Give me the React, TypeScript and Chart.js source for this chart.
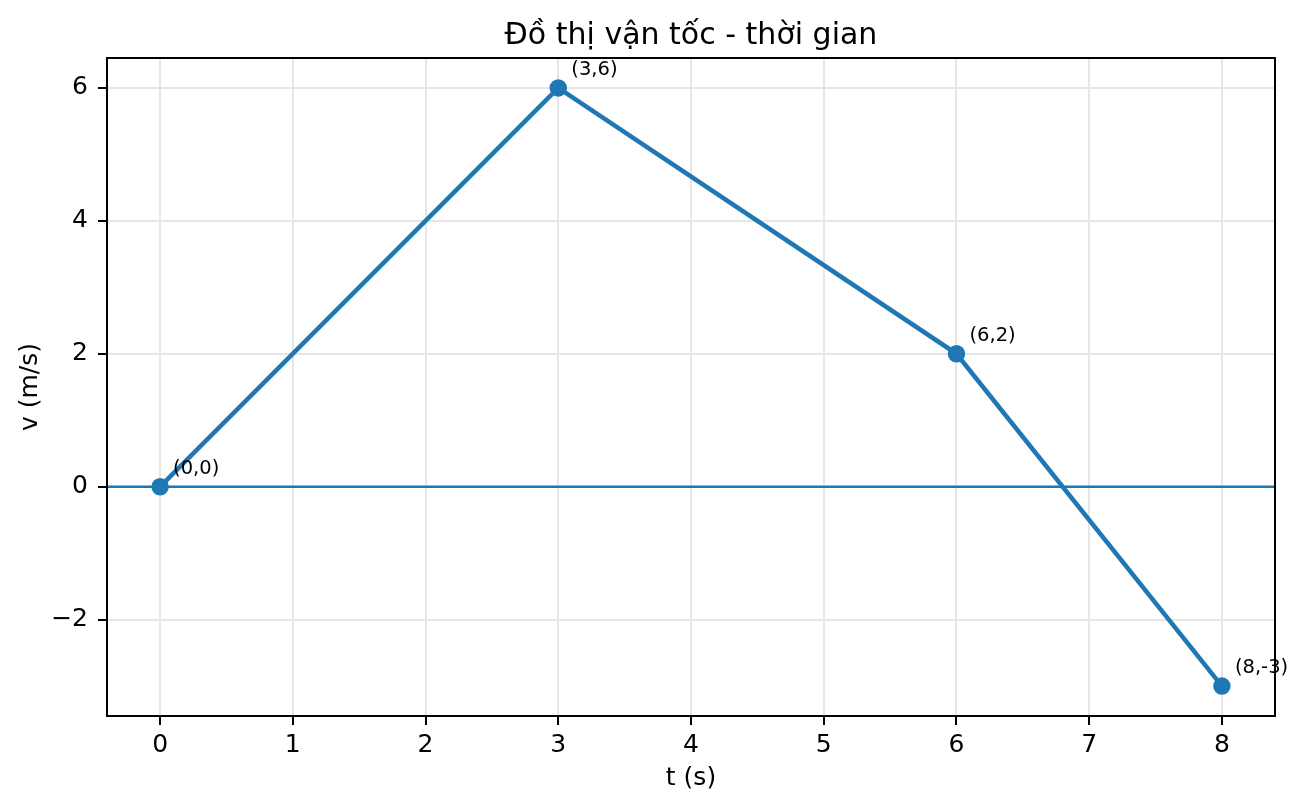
import React, { useRef, useEffect } from 'react';
import { Chart, registerables } from 'chart.js';

Chart.register(...registerables);

// velocity - time data
const times = [0, 3, 6, 8];
const velocities = [0, 6, 2, -3];
const xTicks = [0, 1, 2, 3, 4, 5, 6, 7, 8];
const yTicks = [-2, 0, 2, 4, 6];
const chartTitle = 'Đồ thị vận tốc - thời gian';

const BLUE = '#1f77b4';
const FONT = 'DejaVu Sans';

// title centred over the plot area (matplotlib style), not the whole canvas
const axesTitlePlugin = {
  id: 'axesTitle',
  afterDraw(chart: any) {
    const { ctx, chartArea } = chart;
    ctx.save();
    ctx.fillStyle = '#000';
    ctx.font = `30px "${FONT}"`;
    ctx.textAlign = 'center';
    ctx.textBaseline = 'alphabetic';
    ctx.fillText(chartTitle, (chartArea.left + chartArea.right) / 2, chartArea.top - 14);
    ctx.restore();
  },
};

// frame on all four sides, like matplotlib axes
const framePlugin = {
  id: 'frame',
  afterDraw(chart: any) {
    const { ctx, chartArea } = chart;
    ctx.save();
    ctx.strokeStyle = '#000';
    ctx.lineWidth = 2;
    ctx.strokeRect(chartArea.left, chartArea.top, chartArea.right - chartArea.left, chartArea.bottom - chartArea.top);
    ctx.restore();
  },
};

// horizontal reference line at v = 0
const zeroLinePlugin = {
  id: 'zeroLine',
  beforeDatasetsDraw(chart: any) {
    const { ctx, chartArea, scales } = chart;
    const y = scales.y.getPixelForValue(0);
    ctx.save();
    ctx.strokeStyle = BLUE;
    ctx.lineWidth = 2.4;
    ctx.beginPath();
    ctx.moveTo(chartArea.left, y);
    ctx.lineTo(chartArea.right, y);
    ctx.stroke();
    ctx.restore();
  },
};

// "(t,v)" labels next to each point
const pointLabelPlugin = {
  id: 'pointLabels',
  afterDatasetsDraw(chart: any) {
    const { ctx } = chart;
    const meta = chart.getDatasetMeta(0);
    ctx.save();
    ctx.fillStyle = '#000';
    ctx.font = `19.5px "${FONT}"`;
    ctx.textAlign = 'left';
    ctx.textBaseline = 'alphabetic';
    meta.data.forEach((pt: any, i: number) => {
      ctx.fillText(`(${times[i]},${velocities[i]})`, pt.x + 13, pt.y - 13);
    });
    ctx.restore();
  },
};

const VelocityChart: React.FC = () => {
  const canvasRef = useRef<HTMLCanvasElement>(null);
  const chartInstance = useRef<Chart | null>(null);

  useEffect(() => {
    document.body.style.margin = '0';
    if (!canvasRef.current) return;
    const ctx = canvasRef.current.getContext('2d');
    if (!ctx) return;

    if (chartInstance.current) chartInstance.current.destroy();

    chartInstance.current = new Chart(ctx, {
      type: 'scatter',
      data: {
        datasets: [
          {
            data: times.map((t, i) => ({ x: t, y: velocities[i] })),
            showLine: true,
            borderColor: BLUE,
            backgroundColor: BLUE,
            borderWidth: 4.5,
            pointRadius: 7.5,
            pointBorderWidth: 2.5,
            pointBorderColor: BLUE,
            pointBackgroundColor: BLUE,
          },
        ],
      },
      options: {
        responsive: false,
        animation: false,
        layout: { padding: { left: 0, right: 32, top: 58, bottom: 0 } },
        plugins: {
          legend: { display: false },
          tooltip: { enabled: false },
          title: { display: false },
        },
        scales: {
          x: {
            type: 'linear',
            min: -0.4,
            max: 8.4,
            afterBuildTicks: (scale: any) => {
              scale.ticks = xTicks.map((v) => ({ value: v }));
            },
            afterFit: (scale: any) => {
              scale.height = 93;
            },
            ticks: {
              color: '#000',
              font: { family: FONT, size: 25 },
              padding: 5,
              maxRotation: 0,
              callback: (v: any) => String(v),
            },
            grid: {
              color: '#e6e6e6',
              lineWidth: 2,
              tickColor: '#000',
              tickLength: 9,
              tickWidth: 2,
            },
            border: { display: true, color: '#000', width: 2 },
            title: {
              display: true,
              text: 't (s)',
              color: '#000',
              font: { family: FONT, size: 25 },
              padding: { top: 0, bottom: 16 },
            },
          },
          y: {
            type: 'linear',
            min: -3.45,
            max: 6.45,
            afterBuildTicks: (scale: any) => {
              scale.ticks = yTicks.map((v) => ({ value: v }));
            },
            afterFit: (scale: any) => {
              scale.width = 107;
            },
            ticks: {
              color: '#000',
              font: { family: FONT, size: 25 },
              padding: 10,
              callback: (v: any) => String(v).replace('-', '\u2212'),
            },
            grid: {
              color: '#e6e6e6',
              lineWidth: 2,
              tickColor: '#000',
              tickLength: 9,
              tickWidth: 2,
            },
            border: { display: true, color: '#000', width: 2 },
            title: {
              display: true,
              text: 'v (m/s)',
              color: '#000',
              font: { family: FONT, size: 25 },
              padding: { top: 15, bottom: 0 },
            },
          },
        },
      },
      plugins: [zeroLinePlugin, pointLabelPlugin, framePlugin, axesTitlePlugin],
    });

    return () => {
      if (chartInstance.current) {
        chartInstance.current.destroy();
        chartInstance.current = null;
      }
    };
  }, []);

  return (
    <div style={{ width: '1307px', height: '809px', background: '#fff' }}>
      <canvas ref={canvasRef} width={1307} height={809} />
    </div>
  );
};

export default function App() {
  return <VelocityChart />;
}
